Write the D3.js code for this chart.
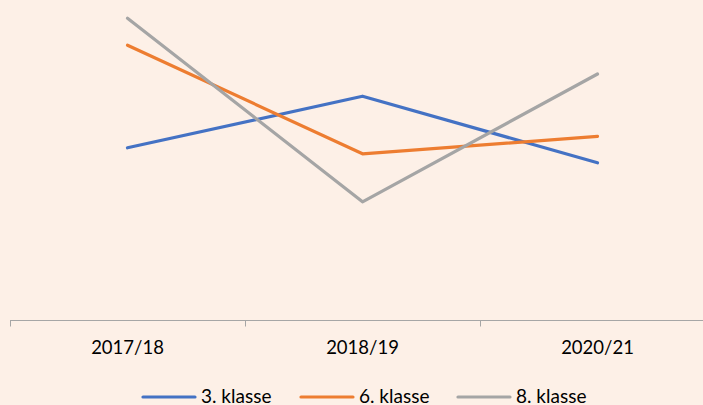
<!DOCTYPE html>
<html>
<head>
<meta charset="utf-8">
<script src="https://cdn.jsdelivr.net/npm/d3@7"></script>
<style>
  html, body { margin: 0; padding: 0; background: #FDF0E7; overflow: hidden; }
  svg { display: block; }
  text { font-family: Lato, "Open Sans", sans-serif; fill: #000; }
</style>
</head>
<body>
<svg id="chart" width="703" height="405"></svg>
<script>
const categories = ["2017/18", "2018/19", "2020/21"];
const seriesNames = ["3. klasse", "6. klasse", "8. klasse"];
const klasse3 = [28.7, 37.3, 26.2];
const klasse6 = [45.8, 27.7, 30.6];
const klasse8 = [50.3, 19.7, 41.0];
const colors = ["#4472C4", "#ED7D31", "#A5A5A5"];

const series = [klasse3, klasse6, klasse8];

const svg = d3.select("#chart");
const W = 703, H = 405;
svg.append("rect").attr("width", W).attr("height", H).attr("fill", "#FDF0E7");

const x = d3.scaleBand().domain(categories).range([10, 715]).paddingInner(0).paddingOuter(0);
const y = d3.scaleLinear().domain([0, 50]).range([320, 20]);

// x axis
const axisG = svg.append("g").attr("transform", "translate(0,320.5)");
axisG.append("line").attr("x1", 10).attr("x2", 715).attr("y1", 0).attr("y2", 0)
  .attr("stroke", "#A6A6A6").attr("stroke-width", 1);
const tickPos = categories.map(c => x(c)).concat([x(categories[categories.length - 1]) + x.bandwidth()]);
axisG.selectAll("line.tick").data(tickPos).enter().append("line")
  .attr("class", "tick")
  .attr("x1", d => Math.round(d) + 0.5).attr("x2", d => Math.round(d) + 0.5)
  .attr("y1", 0).attr("y2", 6)
  .attr("stroke", "#A6A6A6").attr("stroke-width", 1);
axisG.selectAll("text").data(categories).enter().append("text")
  .attr("x", d => x(d) + x.bandwidth() / 2)
  .attr("y", 33.5)
  .attr("text-anchor", "middle")
  .attr("font-size", 18.5)
  .text(d => d);

// lines
const line = d3.line()
  .x((d, i) => x(categories[i]) + x.bandwidth() / 2)
  .y(d => y(d));

series.forEach((s, k) => {
  svg.append("path").datum(s)
    .attr("d", line)
    .attr("fill", "none")
    .attr("stroke", colors[k])
    .attr("stroke-width", 3.2)
    .attr("stroke-linecap", "round")
    .attr("stroke-linejoin", "round");
});

// legend
const legendX = [143, 301, 458];
const legend = svg.append("g").attr("transform", "translate(0,397)");
seriesNames.forEach((name, k) => {
  const g = legend.append("g").attr("transform", `translate(${legendX[k]},0)`);
  g.append("line").attr("x1", 0).attr("x2", 52).attr("y1", 0).attr("y2", 0)
    .attr("stroke", colors[k]).attr("stroke-width", 3.2).attr("stroke-linecap", "round");
  g.append("text").attr("x", 58).attr("y", 5.5).attr("font-size", 19).text(name);
});
</script>
</body>
</html>
